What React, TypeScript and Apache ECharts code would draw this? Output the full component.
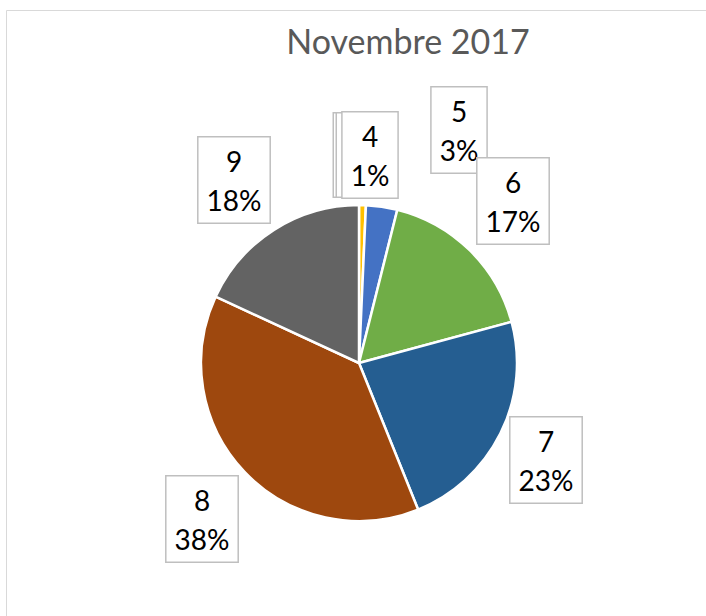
import React, { useEffect, useRef } from "react";
import * as echarts from "echarts";

const categories = ["2", "3", "4", "5", "6", "7", "8", "9"];
const values = [0, 0, 0.7, 3.2, 16.9, 23.1, 38.0, 18.1];
const colors = ["#A5A5A5", "#A5A5A5", "#FFC000", "#4472C4", "#70AD47", "#255E91", "#9E480E", "#636363"];
const hiddenLabel = [true, true, false, false, false, false, false, false];
const labelCenters: [number, number][] = [
  [361, 155],
  [364, 155],
  [370, 155],
  [459, 130],
  [513, 201],
  [546, 460],
  [202, 519],
  [234, 180],
];
const titleText = "Novembre 2017";
const FONT = "Lato, 'Open Sans', sans-serif";

export default function App() {
  const ref = useRef<HTMLDivElement>(null);
  useEffect(() => {
    if (!ref.current) return;
    const chart = echarts.init(ref.current, null, { renderer: "svg" });
    chart.setOption({
      animation: false,
      backgroundColor: "#ffffff",
      graphic: [
        {
          type: "rect",
          shape: { x: 6.5, y: 10.5, width: 800, height: 700 },
          style: { fill: "none", stroke: "#d9d9d9", lineWidth: 1 },
          z: -1,
        },
        {
          type: "text",
          x: 408,
          y: 40,
          style: {
            text: titleText,
            fontSize: 34,
            fontFamily: FONT,
            fill: "#595959",
            align: "center",
            verticalAlign: "middle",
          },
        },
      ],
      series: [
        {
          type: "pie",
          center: [359, 363],
          radius: 158,
          startAngle: 90,
          clockwise: true,
          percentPrecision: 0,
          avoidLabelOverlap: false,
          data: categories.map((c, i) => ({
            name: c,
            value: values[i],
            itemStyle: { color: colors[i] },
            label: hiddenLabel[i]
              ? { formatter: " ", width: 38, height: 76 }
              : undefined,
          })),
          itemStyle: { borderColor: "#ffffff", borderWidth: 2.5 },
          label: {
            show: true,
            formatter: "{b}\n{d}%",
            fontSize: 28,
            lineHeight: 39,
            fontFamily: FONT,
            color: "#000000",
            backgroundColor: "#ffffff",
            borderColor: "#bfbfbf",
            borderWidth: 1.5,
            padding: [4, 8, 3, 8],
            align: "center",
          },
          labelLine: { show: false },
          labelLayout: (params: any) => {
            const p = labelCenters[params.dataIndex];
            return { x: p[0], y: p[1], align: "center", verticalAlign: "middle" };
          },
          emphasis: { disabled: true },
        },
      ],
    });
    return () => chart.dispose();
  }, []);
  return (
    <div
      ref={ref}
      style={{ position: "fixed", left: 0, top: 0, width: 706, height: 616 }}
    />
  );
}
